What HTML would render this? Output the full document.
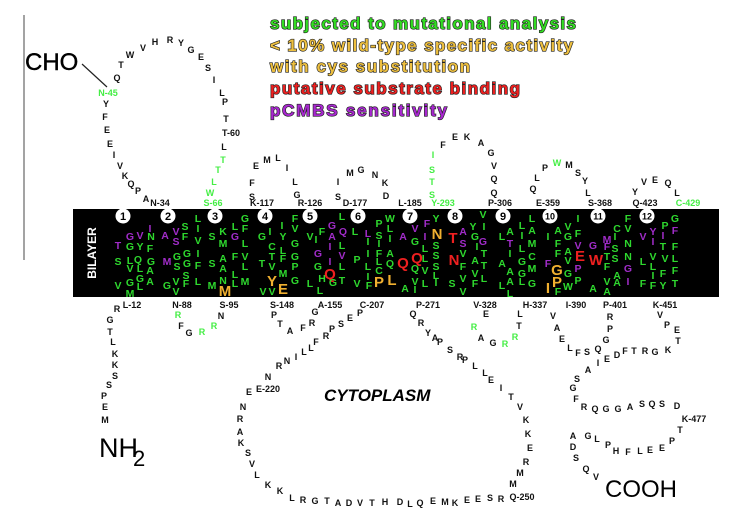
<!DOCTYPE html>
<html><head><meta charset="utf-8"><style>
html,body{margin:0;padding:0;background:#fff;}
svg{display:block;font-family:"Liberation Sans",Arial,sans-serif;}
.k{font-size:9px;font-weight:bold;fill:#111;text-anchor:middle;}
.kg{font-size:9px;font-weight:bold;fill:#44ee44;text-anchor:middle;}
.l{font-size:9px;font-weight:bold;fill:#111;text-anchor:middle;}
.b text{font-size:10.5px;font-weight:bold;text-anchor:middle;}
.g{fill:#2ed82e;}
.p{fill:#a02cc8;}
.y{fill:#f0b030;font-size:15px!important;}
.r{fill:#ee2020;font-size:15px!important;}
.lg{font-size:17px;font-weight:bold;stroke:#222;stroke-width:1.3px;paint-order:stroke;}
</style></head><body>
<svg width="736" height="519" viewBox="0 0 736 519">
<line x1="24" y1="15" x2="24" y2="260" stroke="#666" stroke-width="1.2"/>
<text x="25" y="70" font-size="24" fill="#000" stroke="#000" stroke-width="0.4">CHO</text>
<line x1="82" y1="64" x2="107" y2="87" stroke="#222" stroke-width="1.2"/>

<text class="lg" x="270" y="29" fill="#33dd22" textLength="306">subjected to mutational analysis</text>
<text class="lg" x="270" y="51" fill="#eec040" textLength="303">&lt; 10% wild-type specific activity</text>
<text class="lg" x="270" y="72" fill="#eec040" textLength="200">with cys substitution</text>
<text class="lg" x="270" y="94" fill="#ee2020" textLength="250">putative substrate binding</text>
<text class="lg" x="270" y="116" fill="#a828d0" textLength="177">pCMBS sensitivity</text>

<rect x="73" y="209" width="646" height="88" fill="#000"/>
<text x="0" y="0" transform="translate(96,253) rotate(-90)" fill="#fff" font-size="12" font-weight="bold" text-anchor="middle">BILAYER</text>
<g fill="#fff">
<circle cx="123" cy="216" r="7.5"/><circle cx="168" cy="216" r="7.5"/><circle cx="215" cy="216" r="7.5"/><circle cx="265" cy="216" r="7.5"/><circle cx="310" cy="216" r="7.5"/><circle cx="358" cy="216" r="7.5"/><circle cx="410" cy="216" r="7.5"/><circle cx="455" cy="216" r="7.5"/><circle cx="503" cy="216" r="7.5"/><circle cx="550" cy="216" r="7.5"/><circle cx="598" cy="216" r="7.5"/><circle cx="647" cy="216" r="7.5"/>
</g>
<g font-size="11" font-weight="bold" text-anchor="middle" fill="#000">
<text x="123" y="220">1</text><text x="168" y="220">2</text><text x="215" y="220">3</text><text x="265" y="220">4</text><text x="310" y="220">5</text><text x="358" y="220">6</text><text x="410" y="220">7</text><text x="455" y="220">8</text><text x="503" y="220">9</text><text x="550" y="219.5" font-size="9">10</text><text x="598" y="219.5" font-size="9">11</text><text x="647" y="219.5" font-size="9">12</text>
</g>

<g class="b">
<text class="p" x="118" y="249">T</text><text class="p" x="130" y="240">G</text><text class="p" x="140" y="239">V</text><text class="p" x="150" y="232">I</text><text class="g" x="151" y="240">N</text><text class="g" x="140" y="250">Y</text><text class="g" x="130" y="250">G</text><text class="g" x="150" y="252">F</text><text class="g" x="138" y="263">Q</text><text class="g" x="118" y="265">S</text><text class="g" x="130" y="264">L</text><text class="g" x="151" y="265">G</text><text class="g" x="130" y="272">V</text><text class="g" x="140" y="272">L</text><text class="g" x="150" y="274">A</text><text class="g" x="140" y="282">G</text><text class="g" x="150" y="285">A</text><text class="g" x="118" y="289">V</text><text class="g" x="130" y="286">G</text><text class="g" x="140" y="290">L</text><text class="g" x="130" y="297">M</text>
<text class="p" x="165" y="239">A</text><text class="p" x="176" y="235">V</text><text class="g" x="185" y="230">S</text><text class="p" x="176" y="245">S</text><text class="g" x="185" y="240">F</text><text class="p" x="167" y="265">M</text><text class="g" x="177" y="260">G</text><text class="g" x="187" y="257">G</text><text class="g" x="177" y="270">S</text><text class="g" x="187" y="267">G</text><text class="g" x="167" y="289">G</text><text class="g" x="176" y="285">V</text><text class="g" x="186" y="279">S</text><text class="g" x="176" y="295">V</text><text class="g" x="186" y="287">F</text>
<text class="g" x="198" y="222">L</text><text class="g" x="198" y="232">I</text><text class="g" x="198" y="244">V</text><text class="g" x="198" y="257">I</text><text class="g" x="198" y="269">F</text><text class="g" x="198" y="285">L</text>
<text class="g" x="212" y="240">S</text><text class="g" x="223" y="235">K</text><text class="g" x="223" y="247">M</text><text class="g" x="212" y="267">S</text><text class="g" x="223" y="262">A</text><text class="g" x="223" y="272">A</text><text class="g" x="223" y="284">N</text><text class="g" x="212" y="289">M</text><text class="y" x="225" y="296">M</text><text class="g" x="235" y="230">L</text><text class="p" x="235" y="240">G</text><text class="g" x="235" y="278">L</text><text class="g" x="235" y="287">L</text><text class="g" x="245" y="285">M</text><text class="g" x="245" y="222">G</text><text class="g" x="245" y="232">F</text><text class="g" x="245" y="247">L</text><text class="g" x="245" y="260">V</text><text class="g" x="245" y="270">L</text><text class="g" x="235" y="260">F</text>
<text class="g" x="262" y="240">G</text><text class="g" x="270" y="235">I</text><text class="g" x="272" y="250">C</text><text class="g" x="272" y="260">T</text><text class="g" x="262" y="267">T</text><text class="g" x="272" y="270">V</text><text class="y" x="272" y="286">Y</text><text class="g" x="263" y="295">V</text><text class="g" x="272" y="295">V</text><text class="y" x="283" y="294">E</text><text class="g" x="282" y="229">I</text><text class="g" x="283" y="240">Y</text><text class="g" x="283" y="254">L</text><text class="g" x="283" y="262">F</text><text class="g" x="283" y="277">M</text><text class="g" x="295" y="222">F</text><text class="g" x="295" y="232">V</text><text class="g" x="295" y="247">G</text><text class="g" x="295" y="260">G</text><text class="g" x="295" y="270">P</text><text class="g" x="295" y="284">G</text>
<text class="g" x="310" y="240">V</text><text class="g" x="316" y="243">I</text><text class="g" x="322" y="235">F</text><text class="p" x="332" y="229">G</text><text class="p" x="332" y="240">A</text><text class="p" x="330" y="250">I</text><text class="p" x="318" y="257">G</text><text class="p" x="330" y="265">I</text><text class="g" x="318" y="270">G</text><text class="g" x="322" y="282">H</text><text class="g" x="310" y="287">L</text><text class="g" x="320" y="294">L</text><text class="r" x="330" y="279">Q</text><text class="g" x="333" y="286">G</text><text class="g" x="342" y="220">L</text><text class="p" x="343" y="235">Q</text><text class="g" x="342" y="249">L</text><text class="p" x="342" y="259">V</text><text class="g" x="342" y="270">L</text><text class="g" x="342" y="284">T</text>
<text class="g" x="355" y="235">L</text><text class="g" x="357" y="263">P</text><text class="g" x="357" y="287">V</text><text class="p" x="368" y="237">L</text><text class="g" x="368" y="245">I</text><text class="g" x="368" y="257">I</text><text class="g" x="368" y="270">L</text><text class="g" x="368" y="280">I</text><text class="g" x="369" y="289">F</text><text class="g" x="379" y="227">P</text><text class="g" x="379" y="239">S</text><text class="g" x="379" y="247">I</text><text class="g" x="379" y="257">F</text><text class="g" x="379" y="265">L</text><text class="g" x="379" y="274">C</text><text class="y" x="379" y="287">P</text><text class="g" x="390" y="222">W</text><text class="g" x="390" y="232">L</text><text class="g" x="390" y="242">I</text><text class="g" x="390" y="257">A</text><text class="g" x="390" y="267">Q</text><text class="y" x="392" y="285">L</text>
<text class="p" x="403" y="240">A</text><text class="p" x="415" y="232">V</text><text class="g" x="415" y="245">G</text><text class="r" x="403" y="268">Q</text><text class="r" x="417" y="263">Q</text><text class="g" x="415" y="272">Q</text><text class="g" x="415" y="285">V</text><text class="g" x="415" y="293">I</text><text class="g" x="405" y="292">A</text><text class="p" x="427" y="227">F</text><text class="p" x="425" y="240">I</text><text class="g" x="425" y="252">L</text><text class="g" x="425" y="262">L</text><text class="g" x="425" y="274">V</text><text class="g" x="425" y="287">L</text><text class="g" x="436" y="222">Y</text><text class="y" x="437" y="239">N</text><text class="g" x="436" y="249">S</text><text class="g" x="436" y="259">S</text><text class="g" x="436" y="270">S</text><text class="g" x="436" y="279">L</text><text class="g" x="436" y="286">I</text>
<text class="r" x="453" y="243">T</text><text class="r" x="454" y="265">N</text><text class="g" x="452" y="287">S</text><text class="p" x="463" y="235">A</text><text class="p" x="463" y="247">S</text><text class="g" x="463" y="257">V</text><text class="g" x="463" y="270">F</text><text class="g" x="463" y="282">V</text><text class="g" x="463" y="295">V</text><text class="g" x="473" y="230">Y</text><text class="g" x="475" y="240">G</text><text class="g" x="477" y="250">I</text><text class="g" x="475" y="264">A</text><text class="g" x="475" y="277">V</text><text class="g" x="475" y="287">F</text><text class="g" x="483" y="218">V</text><text class="g" x="484" y="230">I</text><text class="p" x="483" y="245">G</text><text class="g" x="484" y="257">T</text><text class="g" x="484" y="269">T</text><text class="g" x="484" y="282">L</text>
<text class="g" x="502" y="240">L</text><text class="g" x="510" y="235">A</text><text class="p" x="510" y="247">T</text><text class="g" x="502" y="267">A</text><text class="g" x="510" y="257">I</text><text class="g" x="510" y="275">A</text><text class="g" x="510" y="285">A</text><text class="g" x="502" y="289">L</text><text class="g" x="510" y="297">L</text><text class="g" x="522" y="229">L</text><text class="g" x="522" y="239">I</text><text class="g" x="522" y="252">L</text><text class="g" x="522" y="265">G</text><text class="g" x="522" y="277">G</text><text class="g" x="522" y="285">L</text><text class="g" x="532" y="222">L</text><text class="g" x="532" y="234">A</text><text class="g" x="532" y="247">M</text><text class="g" x="532" y="260">C</text><text class="g" x="532" y="272">M</text><text class="g" x="532" y="287">G</text>
<text class="g" x="548" y="240">I</text><text class="p" x="548" y="267">F</text><text class="g" x="558" y="234">A</text><text class="g" x="558" y="247">F</text><text class="g" x="558" y="257">F</text><text class="y" x="557" y="275">G</text><text class="y" x="557" y="287">P</text><text class="y" x="548" y="293">I</text><text class="g" x="558" y="295">F</text><text class="g" x="568" y="230">V</text><text class="g" x="568" y="240">G</text><text class="g" x="568" y="255">A</text><text class="g" x="568" y="264">V</text><text class="g" x="568" y="277">G</text><text class="g" x="568" y="290">W</text><text class="g" x="578" y="222">I</text><text class="g" x="578" y="237">F</text><text class="p" x="578" y="249">V</text><text class="r" x="580" y="261">E</text><text class="p" x="578" y="272">P</text><text class="g" x="578" y="284">P</text>
<text class="p" x="593" y="249">G</text><text class="r" x="596" y="265">W</text><text class="g" x="593" y="292">A</text><text class="p" x="607" y="243">M</text><text class="p" x="607" y="250">F</text><text class="g" x="607" y="260">T</text><text class="g" x="607" y="270">F</text><text class="g" x="607" y="285">V</text><text class="g" x="607" y="295">A</text><text class="g" x="617" y="232">C</text><text class="g" x="615" y="240">I</text><text class="g" x="615" y="252">S</text><text class="g" x="615" y="262">S</text><text class="g" x="617" y="279">A</text><text class="g" x="617" y="286">A</text><text class="g" x="628" y="222">F</text><text class="g" x="628" y="232">V</text><text class="g" x="628" y="247">N</text><text class="g" x="628" y="260">N</text><text class="p" x="628" y="272">G</text><text class="p" x="628" y="285">I</text>
<text class="p" x="643" y="240">V</text><text class="g" x="643" y="265">L</text><text class="g" x="643" y="287">F</text><text class="p" x="653" y="235">Y</text><text class="p" x="653" y="245">I</text><text class="g" x="653" y="260">V</text><text class="g" x="653" y="270">L</text><text class="g" x="653" y="279">I</text><text class="g" x="653" y="289">F</text><text class="g" x="665" y="229">P</text><text class="p" x="663" y="239">I</text><text class="g" x="663" y="250">T</text><text class="g" x="665" y="262">V</text><text class="g" x="663" y="277">F</text><text class="g" x="663" y="289">Y</text><text class="g" x="675" y="222">G</text><text class="p" x="675" y="234">F</text><text class="g" x="675" y="250">F</text><text class="g" x="675" y="262">L</text><text class="g" x="675" y="274">F</text><text class="g" x="675" y="287">T</text>
</g>

<g class="l">
<text x="160" y="206">N-34</text><text x="213" y="206" class="kg">S-66</text><text x="262" y="206">K-117</text><text x="310" y="206">R-126</text><text x="355" y="206">D-177</text><text x="410" y="206">L-185</text><text x="443" y="206" class="kg">Y-293</text><text x="500" y="206">P-306</text><text x="548" y="206">E-359</text><text x="600" y="206">S-368</text><text x="645" y="206">Q-423</text><text x="688" y="206" class="kg">C-429</text>
<text x="132" y="308">L-12</text><text x="182" y="308">N-88</text><text x="229" y="308">S-95</text><text x="282" y="308">S-148</text><text x="330" y="308">A-155</text><text x="372" y="308">C-207</text><text x="428" y="308">P-271</text><text x="485" y="308">V-328</text><text x="535" y="308">H-337</text><text x="576" y="308">I-390</text><text x="615" y="308">P-401</text><text x="665" y="308">K-451</text>
<text x="268" y="392">E-220</text><text x="522" y="500">Q-250</text><text x="694" y="422">K-477</text>
</g>

<g class="k">
<text x="108" y="96" class="kg">N-45</text>
<text x="106" y="107">Y</text><text x="105" y="120">F</text><text x="107" y="133">E</text><text x="110" y="147">E</text><text x="114" y="158">I</text><text x="120" y="169">V</text><text x="125" y="179">K</text><text x="131" y="187">Q</text><text x="138" y="194">P</text><text x="146" y="202">A</text>
<text x="117" y="81">Q</text><text x="121" y="68">T</text><text x="130" y="58">W</text><text x="143" y="51">V</text><text x="155" y="45">H</text><text x="170" y="43">R</text><text x="181" y="46">Y</text><text x="191" y="53">G</text><text x="201" y="60">E</text><text x="208" y="71">S</text><text x="214" y="83">I</text><text x="222" y="96">L</text><text x="225" y="105">P</text><text x="226" y="122">T</text><text x="231" y="136">T-60</text><text x="224" y="150">L</text><text x="223" y="163" class="kg">T</text><text x="218" y="173" class="kg">T</text><text x="214" y="185" class="kg">L</text><text x="210" y="196" class="kg">W</text>
<text x="252" y="186">F</text><text x="252" y="200">S</text><text x="256" y="169">E</text><text x="267" y="163">M</text><text x="278" y="161">L</text><text x="287" y="171">I</text><text x="295" y="185">L</text><text x="297" y="198">G</text>
<text x="338" y="185">I</text><text x="338" y="200">S</text><text x="350" y="176">M</text><text x="361" y="173">G</text><text x="375" y="178">N</text><text x="385" y="186">K</text><text x="386" y="199">D</text>
<text x="433" y="158" class="kg">I</text><text x="432" y="173" class="kg">S</text><text x="432" y="185" class="kg">T</text><text x="432" y="198" class="kg">S</text><text x="443" y="148">F</text><text x="455" y="140">E</text><text x="467" y="140">K</text><text x="481" y="146">A</text><text x="491" y="156">G</text><text x="494" y="169">V</text><text x="494" y="182">Q</text><text x="494" y="196">Q</text>
<text x="533" y="192">Q</text><text x="537" y="181">L</text><text x="545" y="171">P</text><text x="557" y="166" class="kg">W</text><text x="569" y="168">M</text><text x="578" y="176">S</text><text x="585" y="184">Y</text><text x="588" y="196">L</text>
<text x="635" y="195">Y</text><text x="644" y="185">V</text><text x="655" y="183">E</text><text x="668" y="186">Q</text><text x="677" y="196">L</text>

<text x="117" y="312">R</text><text x="110" y="323">G</text><text x="110" y="335">T</text><text x="113" y="345">L</text><text x="115" y="357">K</text><text x="115" y="368">K</text><text x="115" y="379">S</text><text x="109" y="388">S</text><text x="104" y="399">P</text><text x="105" y="410">E</text><text x="105" y="423">M</text>
<text x="178" y="318" class="kg">R</text><text x="181" y="329">F</text><text x="189" y="336">G</text><text x="202" y="335" class="kg">R</text><text x="214" y="329" class="kg">R</text><text x="221" y="319">N</text>
<text x="274" y="318">P</text><text x="280" y="327">T</text><text x="290" y="334">A</text><text x="303" y="331">F</text><text x="312" y="326">R</text><text x="315" y="315">G</text>
<text x="360" y="316">P</text><text x="350" y="321">E</text><text x="341" y="327">S</text><text x="332" y="332">P</text><text x="326" y="339">R</text><text x="316" y="345">F</text><text x="311" y="351">L</text><text x="304" y="355">L</text><text x="296" y="360">I</text><text x="287" y="364">N</text><text x="279" y="369">R</text><text x="268" y="380">N</text><text x="249" y="395">E</text><text x="243" y="410">N</text><text x="240" y="422">R</text><text x="240" y="435">A</text><text x="241" y="446">K</text><text x="248" y="456">S</text><text x="252" y="467">V</text><text x="257" y="478">L</text><text x="268" y="488">K</text><text x="280" y="494">K</text><text x="292" y="501">L</text><text x="303" y="503">R</text><text x="315" y="504">G</text><text x="327" y="504">T</text><text x="338" y="506">A</text><text x="349" y="506">D</text><text x="360" y="506">V</text><text x="372" y="506">T</text><text x="385" y="505">H</text><text x="400" y="505">D</text><text x="410" y="507">L</text><text x="420" y="506">Q</text><text x="433" y="504">E</text><text x="445" y="505">M</text><text x="455" y="506">K</text><text x="467" y="503">E</text><text x="478" y="502">E</text><text x="490" y="501">S</text><text x="501" y="502">R</text>
<text x="513" y="487">M</text><text x="520" y="476">M</text><text x="526" y="465">R</text><text x="530" y="451">E</text><text x="528" y="437">K</text><text x="526" y="423">K</text><text x="520" y="410">V</text><text x="511" y="400">T</text><text x="501" y="391">I</text><text x="491" y="383">E</text><text x="485" y="376">L</text><text x="475" y="369">L</text><text x="465" y="363">P</text><text x="460" y="360">R</text><text x="450" y="353">S</text><text x="440" y="345">P</text><text x="435" y="341">A</text><text x="428" y="336">Y</text><text x="421" y="326">R</text><text x="413" y="317">Q</text>
<text x="486" y="317">E</text><text x="474" y="330" class="kg">R</text><text x="481" y="341">A</text><text x="493" y="346">G</text><text x="505" y="347" class="kg">R</text><text x="515" y="340" class="kg">R</text><text x="519" y="329">T</text><text x="520" y="317">L</text>
<text x="553" y="319">V</text><text x="557" y="331">A</text><text x="562" y="342">E</text><text x="570" y="351">L</text><text x="578" y="356">F</text><text x="587" y="355">S</text><text x="598" y="352">Q</text><text x="606" y="343">G</text><text x="610" y="332">P</text><text x="610" y="320">R</text>
<text x="660" y="318">V</text><text x="667" y="328">P</text><text x="677" y="333">E</text><text x="678" y="344">T</text><text x="668" y="353">K</text><text x="655" y="355">G</text><text x="645" y="354">R</text><text x="634" y="354">T</text><text x="625" y="354">F</text><text x="617" y="358">D</text><text x="607" y="362">E</text><text x="598" y="366">I</text><text x="588" y="373">A</text><text x="577" y="382">S</text><text x="573" y="391">G</text><text x="576" y="402">F</text><text x="584" y="410">R</text><text x="595" y="412">Q</text><text x="606" y="412">G</text><text x="618" y="412">G</text><text x="630" y="410">A</text><text x="642" y="407">S</text><text x="652" y="407">Q</text><text x="662" y="407">S</text><text x="677" y="409">D</text><text x="680" y="433">T</text><text x="672" y="444">P</text><text x="662" y="451">E</text><text x="650" y="453">E</text><text x="640" y="454">L</text><text x="628" y="455">F</text><text x="616" y="454">H</text><text x="608" y="448">P</text><text x="597" y="442">L</text><text x="588" y="439">G</text><text x="573" y="439">A</text><text x="573" y="450">D</text><text x="576" y="461">S</text><text x="586" y="472">Q</text><text x="596" y="480">V</text>
</g>

<text x="99" y="457" font-size="27" fill="#000">NH</text><text x="133" y="466" font-size="22" fill="#000">2</text>
<text x="605" y="497" font-size="24" fill="#000">COOH</text>
<text x="324" y="401" font-size="17" font-weight="bold" font-style="italic" fill="#000">CYTOPLASM</text>
</svg>
</body></html>
